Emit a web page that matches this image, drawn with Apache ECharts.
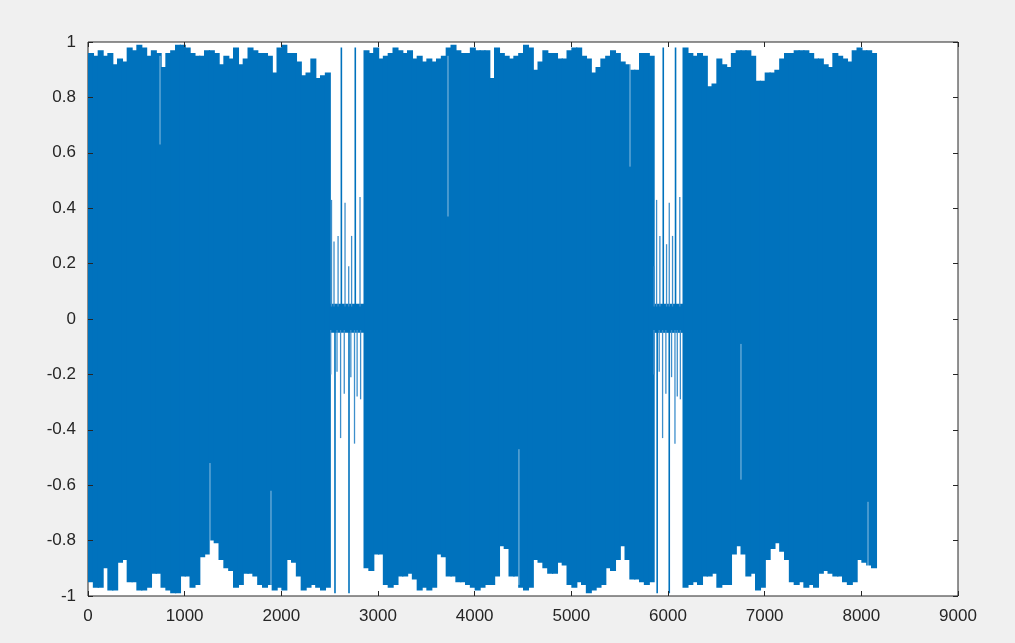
<!DOCTYPE html>
<html>
<head>
<meta charset="utf-8">
<script src="https://cdn.jsdelivr.net/npm/echarts@6/dist/echarts.min.js"></script>
<style>
html, body { margin: 0; background: #f0f0f0; }
#main { width: 1015px; height: 643px; }
</style>
</head>
<body>
<div id="main"></div>
<script>
// samples per column of the envelope
var BIN = 50;

// upper / lower edge of the signal, one value per 50 samples (null = sparse gap)
var upper = [
  0.96, 0.95, 0.97, 0.95, 0.96, 0.92, 0.94, 0.93, 0.98, 0.97,
  0.99, 0.98, 0.95, 0.97, 0.96, 0.91, 0.96, 0.97, 0.99, 0.99,
  0.98, 0.96, 0.95, 0.95, 0.97, 0.97, 0.96, 0.92, 0.95, 0.94,
  0.98, 0.92, 0.94, 0.98, 0.97, 0.96, 0.96, 0.95, 0.89, 0.98,
  0.99, 0.96, 0.96, 0.93, 0.88, 0.89, 0.94, 0.87, 0.88, 0.89,
  null, null, null, null, null, null, null, 0.97, 0.96, 0.98,
  0.94, 0.95, 0.96, 0.98, 0.97, 0.96, 0.97, 0.94, 0.95, 0.93,
  0.94, 0.93, 0.94, 0.95, 0.98, 0.99, 0.97, 0.96, 0.96, 0.98,
  0.97, 0.97, 0.97, 0.87, 0.98, 0.96, 0.95, 0.94, 0.95, 0.96,
  0.99, 0.98, 0.90, 0.93, 0.97, 0.96, 0.96, 0.94, 0.94, 0.97,
  0.98, 0.98, 0.95, 0.94, 0.89, 0.91, 0.94, 0.95, 0.97, 0.96,
  0.93, 0.92, 0.90, 0.90, 0.96, 0.96, 0.95, null, null, null,
  null, null, null, 0.98, 0.96, 0.95, 0.96, 0.95, 0.84, 0.85,
  0.94, 0.92, 0.91, 0.96, 0.97, 0.97, 0.97, 0.95, 0.86, 0.86,
  0.89, 0.89, 0.90, 0.94, 0.96, 0.96, 0.97, 0.97, 0.97, 0.96,
  0.94, 0.94, 0.92, 0.91, 0.96, 0.95, 0.94, 0.93, 0.97, 0.98,
  0.97, 0.97, 0.96
];
var lower = [
  -0.95, -0.97, -0.97, -0.90, -0.98, -0.98, -0.88, -0.87, -0.95, -0.95,
  -0.98, -0.98, -0.97, -0.92, -0.92, -0.97, -0.98, -0.99, -0.99, -0.93,
  -0.93, -0.97, -0.96, -0.86, -0.85, -0.80, -0.81, -0.87, -0.90, -0.91,
  -0.97, -0.96, -0.92, -0.92, -0.93, -0.96, -0.97, -0.96, -0.98, -0.97,
  -0.98, -0.87, -0.88, -0.93, -0.98, -0.97, -0.96, -0.97, -0.98, -0.97,
  null, null, null, null, null, null, null, -0.90, -0.91, -0.85,
  -0.85, -0.96, -0.97, -0.96, -0.93, -0.93, -0.92, -0.94, -0.98, -0.97,
  -0.98, -0.97, -0.85, -0.86, -0.93, -0.93, -0.95, -0.95, -0.96, -0.97,
  -0.98, -0.97, -0.96, -0.96, -0.93, -0.82, -0.83, -0.93, -0.93, -0.97,
  -0.98, -0.97, -0.87, -0.88, -0.90, -0.92, -0.92, -0.88, -0.89, -0.96,
  -0.97, -0.95, -0.96, -0.99, -0.98, -0.97, -0.96, -0.90, -0.91, -0.87,
  -0.82, -0.87, -0.94, -0.94, -0.95, -0.96, -0.95, null, null, null,
  null, null, null, -0.97, -0.96, -0.95, -0.96, -0.93, -0.93, -0.92,
  -0.97, -0.96, -0.96, -0.85, -0.82, -0.85, -0.93, -0.92, -0.98, -0.97,
  -0.87, -0.83, -0.81, -0.84, -0.87, -0.95, -0.96, -0.95, -0.97, -0.96,
  -0.97, -0.92, -0.91, -0.92, -0.93, -0.93, -0.95, -0.96, -0.95, -0.87,
  -0.88, -0.89, -0.90
];

// the two sparse stretches and the narrow band around zero they keep
var gapStart = [2500, 5850];
var gapEnd = [2850, 6150];
var bandLow = -0.05;
var bandHigh = 0.055;

// single strokes inside the sparse stretches (sample, peak)
var gapUpX = [2519, 2545, 2587, 2621, 2659, 2697, 2727, 2765, 2814,
              5857, 5882, 5916, 5951, 5985, 6013, 6047, 6078, 6122];
var gapUpY = [0.43, 0.28, 0.30, 0.98, 0.42, 0.19, 0.30, 0.98, 0.44,
              0.19, 0.43, 0.30, 0.98, 0.27, 0.42, 0.30, 0.98, 0.44];
var gapDownX = [2511, 2555, 2576, 2613, 2651, 2700, 2719, 2757, 2784, 2820,
                5855, 5888, 5909, 5944, 5978, 6013, 6037, 6072, 6096, 6128];
var gapDownY = [-0.20, -0.99, -0.19, -0.43, -0.27, -0.99, -0.21, -0.45, -0.28, -0.29,
                -0.20, -0.99, -0.19, -0.43, -0.27, -0.99, -0.21, -0.45, -0.28, -0.29];

// thin pale notches cutting into the dense part (sample, from, to)
var notchX = [745, 3724, 5607, 1262, 1893, 4458, 6755, 8069];
var notchFrom = [0.95, 0.95, 0.95, -0.96, -0.96, -0.96, -0.58, -0.96];
var notchTo = [0.63, 0.37, 0.55, -0.52, -0.62, -0.47, -0.09, -0.66];

var xTicks = { min: 0, max: 9000, step: 1000 };
var yTicks = { min: -1, max: 1, step: 0.2 };

var BLUE = '#0072bd';
var INK = '#262626';

var bodyData = [];
for (var i = 0; i < upper.length; i++) {
  if (upper[i] === null) continue;
  bodyData.push([i * BIN, (i + 1) * BIN, lower[i], upper[i]]);
}
var bandData = gapStart.map(function (s, k) { return [s, gapEnd[k], bandLow, bandHigh]; });
var strokeData = [];
gapUpX.forEach(function (x, k) { strokeData.push([x, bandHigh - 0.01, gapUpY[k]]); });
gapDownX.forEach(function (x, k) { strokeData.push([x, bandLow + 0.01, gapDownY[k]]); });
var notchData = notchX.map(function (x, k) { return [x, notchFrom[k], notchTo[k]]; });

function renderBlock(params, api) {
  var a = api.coord([api.value(0), api.value(3)]);
  var b = api.coord([api.value(1), api.value(2)]);
  // overlap the next column a little so no seam shows
  return {
    type: 'rect',
    shape: { x: a[0], y: a[1], width: b[0] - a[0] + 1.2, height: b[1] - a[1] },
    style: { fill: BLUE }
  };
}

function renderStroke(color, minWidth) {
  return function (params, api) {
    var a = api.coord([api.value(0), api.value(1)]);
    var b = api.coord([api.value(0), api.value(2)]);
    var full = Math.abs(api.value(2)) > 0.9;
    return {
      type: 'line',
      shape: { x1: a[0], y1: a[1], x2: b[0], y2: b[1] },
      style: { stroke: color || (full ? BLUE : '#3d8fcc'), lineWidth: full ? 1.6 : minWidth }
    };
  };
}

var tickFont = { color: INK, fontSize: 17, fontFamily: 'Liberation Sans, Arial, sans-serif' };

function axis(kind, pos, ticks, labels) {
  return {
    type: 'value', position: pos, z: 5,
    min: ticks.min, max: ticks.max, interval: ticks.step,
    axisLine: { show: false, onZero: false },
    axisTick: { inside: true, length: 5, lineStyle: { color: INK } },
    axisLabel: labels ? Object.assign({ margin: 12, formatter: function (v) { return String(+v.toFixed(1)); } }, tickFont) : { show: false },
    splitLine: { show: false }
  };
}

var chart = echarts.init(document.getElementById('main'));
chart.setOption({
  backgroundColor: '#f0f0f0',
  animation: false,
  grid: {
    left: 88, right: 57, top: 42, bottom: 47,
    show: true, backgroundColor: '#ffffff', borderColor: INK, borderWidth: 1
  },
  xAxis: [axis('x', 'bottom', xTicks, true), axis('x', 'top', xTicks, false)],
  yAxis: [axis('y', 'left', yTicks, true), axis('y', 'right', yTicks, false)],
  series: [
    {
      type: 'custom', renderItem: renderBlock, data: bodyData,
      encode: { x: [0, 1], y: [2, 3] }, clip: true, silent: true
    },
    {
      type: 'custom', renderItem: renderBlock, data: bandData,
      encode: { x: [0, 1], y: [2, 3] }, clip: true, silent: true
    },
    {
      type: 'custom', renderItem: renderStroke(null, 1.3), data: strokeData,
      encode: { x: 0, y: [1, 2] }, clip: true, silent: true
    },
    {
      type: 'custom', renderItem: renderStroke('rgba(255,255,255,0.55)', 1), data: notchData,
      encode: { x: 0, y: [1, 2] }, clip: true, silent: true
    }
  ]
});
</script>
</body>
</html>
